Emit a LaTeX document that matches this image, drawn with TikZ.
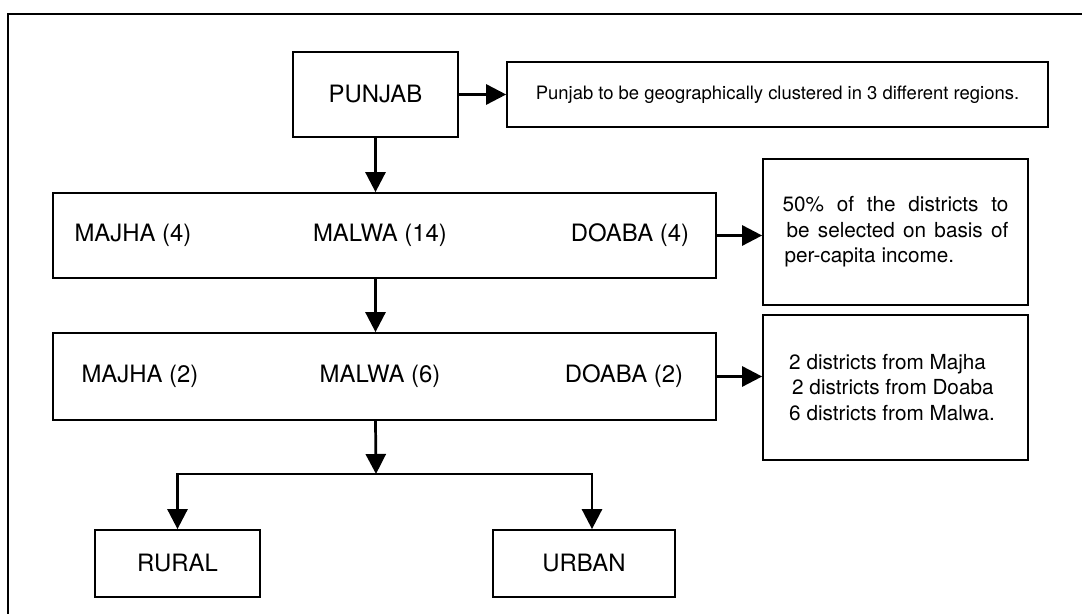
\documentclass[tikz,border=0pt]{standalone}
\usepackage{fontspec}
\setmainfont{TeX Gyre Heros}
\usetikzlibrary{arrows.meta}

\begin{document}
\begin{tikzpicture}[
  x=0.02cm, y=-0.02cm,
  box/.style={draw, line width=1pt, inner sep=0pt, align=center},
  big/.style={font=\fontsize{13.6}{16}\selectfont},
  small/.style={font=\fontsize{10.5}{13}\selectfont},
  note/.style={font=\fontsize{11.8}{14.5}\selectfont},
  flow/.style={line width=1.55pt, -{Triangle[length=0.4cm, width=0.4cm]}},
]
\useasboundingbox (0,0) rectangle (1082,614);
\draw [line width=1pt] (8,640) -- (8,14) -- (1100,14);

% top level
\node [box, big, minimum width=3.3cm, minimum height=1.7cm] (punjab) at (375.5,94.5) {PUNJAB};
\node [box, small, minimum width=10.82cm, minimum height=1.3cm] (cluster) at (777.5,94.5)
  {Punjab to be geographically clustered in 3 different regions.};

% regions
\node [box, minimum width=13.26cm, minimum height=1.7cm] (regions) at (384.5,235.5) {};
\node [big] (majhaA) at (133,235.5) {MAJHA (4)};
\node [big] (malwaA) at (380,235.5) {MALWA (14)};
\node [big] (doabaA) at (630,235.5) {DOABA (4)};
\node [box, note, minimum width=5.3cm, minimum height=2.92cm, align=left] (select) at (895.5,232)
  {\makebox[4.52cm][s]{50\% of the districts to}\\
   \hspace{0.08cm}\makebox[4.44cm][s]{be selected on basis of}\\
   \hspace{0.04cm}per-capita income.};

% selected districts
\node [box, minimum width=13.26cm, minimum height=1.74cm] (districts) at (384.5,376.5) {};
\node [big] (majhaB) at (140,376.5) {MAJHA (2)};
\node [big] (malwaB) at (380,376.5) {MALWA (6)};
\node [big] (doabaB) at (624,376.5) {DOABA (2)};
\node [box, minimum width=5.3cm, minimum height=2.9cm] (split) at (895.5,387.5) {};
\node [note, align=left, anchor=west] (splittext) at (783,387.5)
  {2 districts from Majha\\
   \hspace{0.06cm}2 districts from Doaba\\
   6 districts from Malwa.};

% rural / urban
\node [box, big, minimum width=3.3cm, minimum height=1.34cm] (rural) at (177.5,563.5) {RURAL};
\node [box, big, minimum width=3.64cm, minimum height=1.34cm] (urban) at (584,563.5) {URBAN};
\coordinate (fork) at (376,474);

\draw [flow] (punjab.east) -- (cluster.west);
\draw [flow] (punjab.south) -- (punjab.south |- regions.north);
\draw [flow] (regions.east) -- (regions.east -| select.west);
\draw [flow] (punjab |- regions.south) -- (punjab |- districts.north);
\draw [flow] (districts.east) -- (districts.east -| split.west);
\draw [flow] (punjab |- districts.south) -- (fork);
\draw [flow] (fork) -| (rural.north);
\draw [flow] (fork) -| ([xshift=0.16cm]urban.north);

\end{tikzpicture}
\end{document}
